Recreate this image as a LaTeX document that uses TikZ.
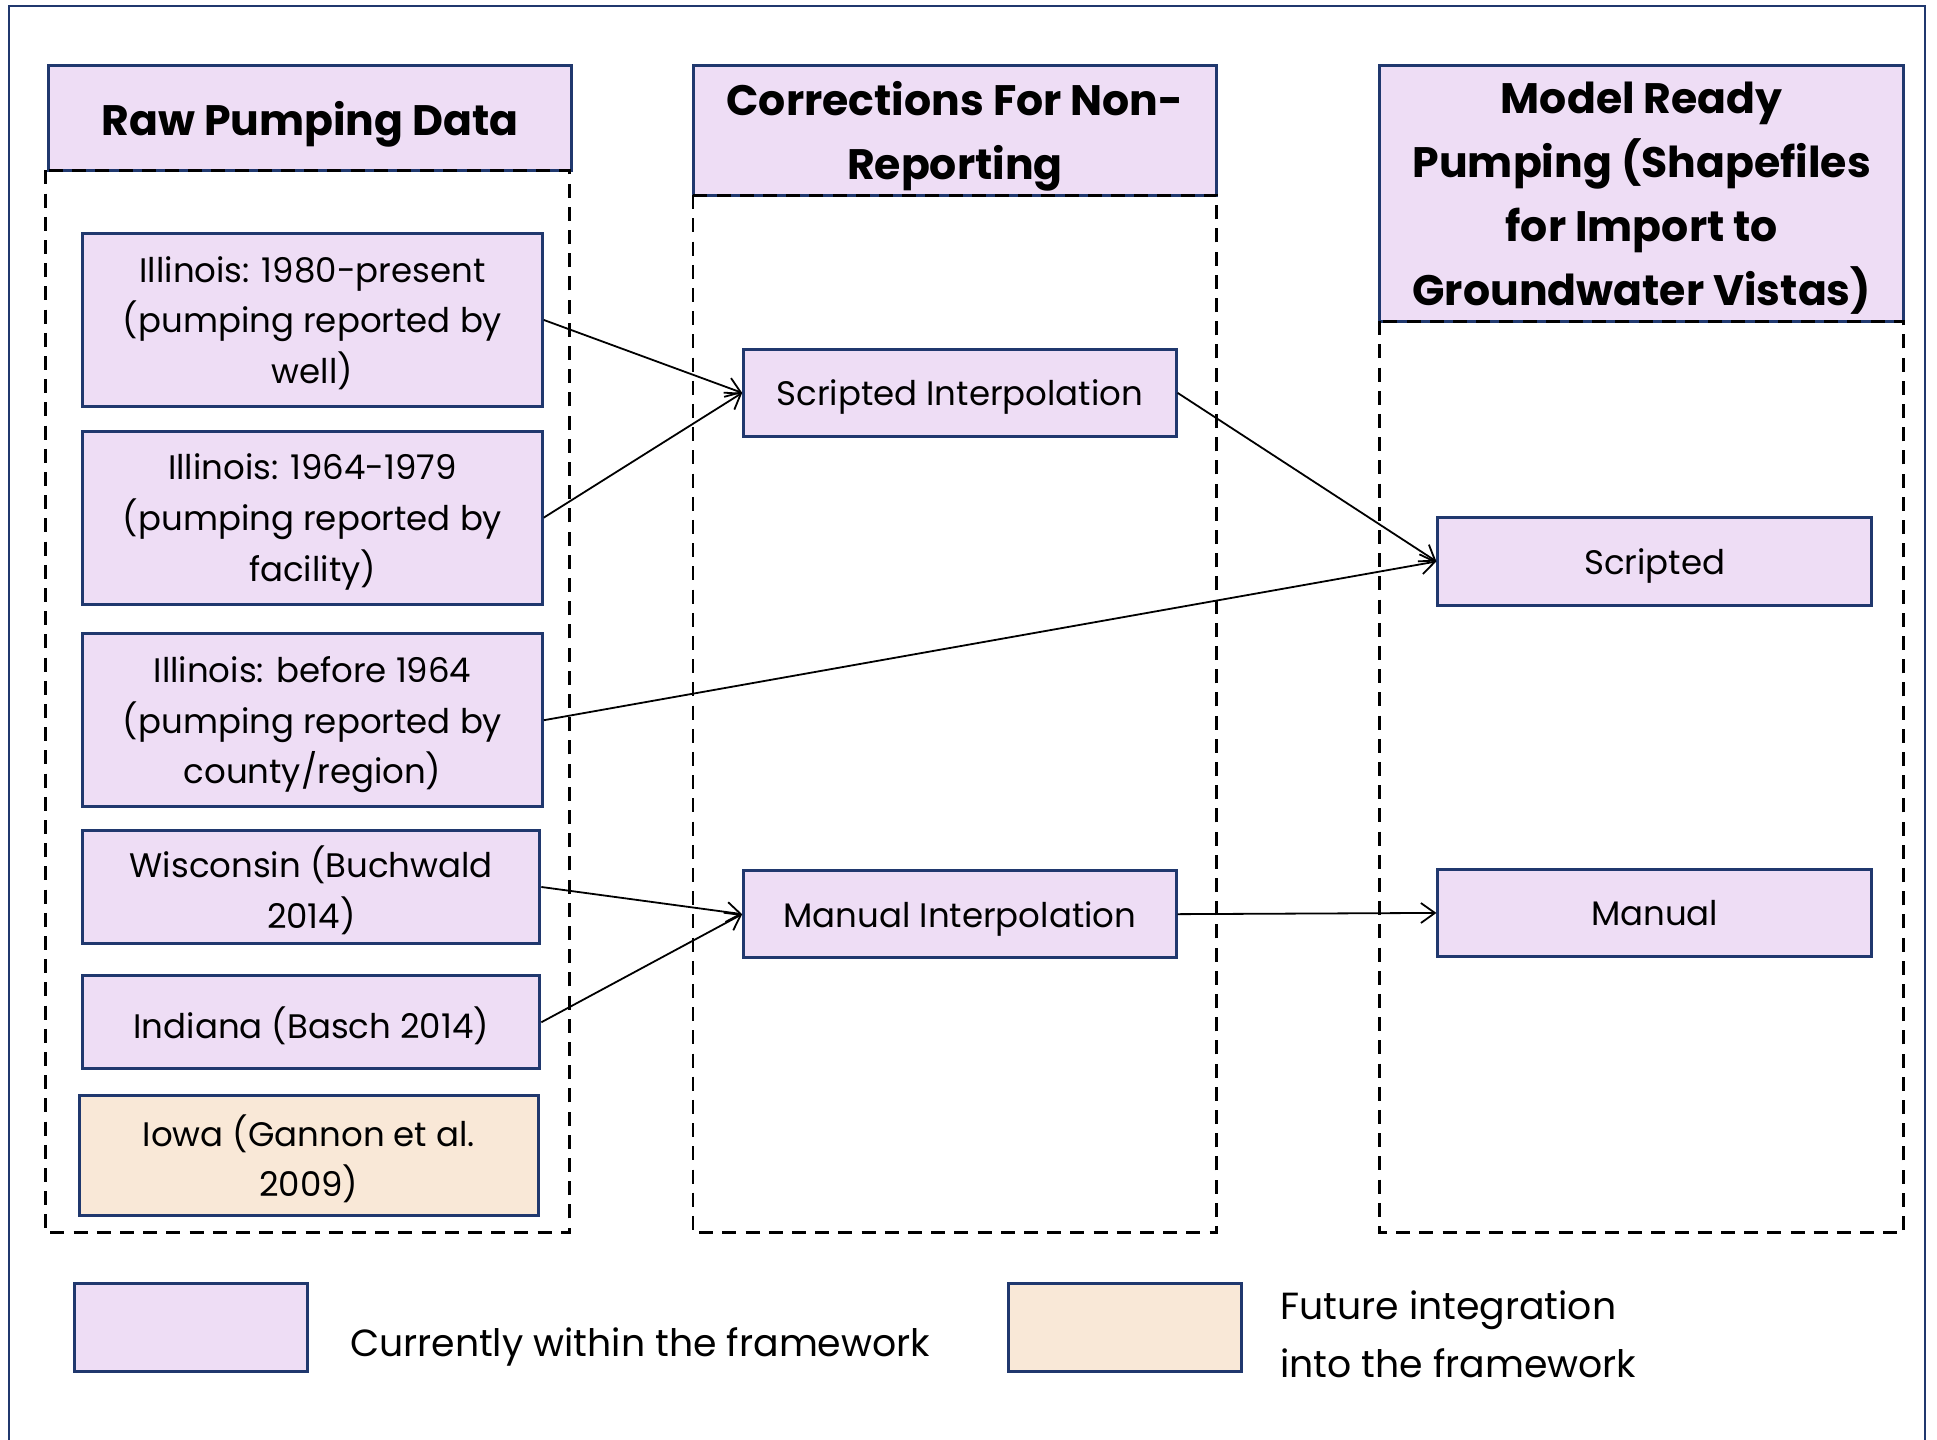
\documentclass[tikz,border=0pt]{standalone}
\usepackage{fontspec}
\setmainfont{Poppins}
\usetikzlibrary{arrows.meta}
\definecolor{lav}{RGB}{238,221,245}
\definecolor{peach}{RGB}{249,232,215}
\definecolor{navy}{RGB}{32,56,110}
\begin{document}
\begin{tikzpicture}[x=0.6177pt,y=-0.6177pt,
  bx/.style 2 args={minimum width=#1*0.6177pt, minimum height=#2*0.6177pt},
  pbox/.style={draw=navy, line width=1.5pt, fill=lav, inner sep=0pt, align=center,
    font=\fontsize{17}{25.3}\selectfont, text depth=-1.8pt},
  fbox/.style={pbox, fill=peach},
  hbox/.style={pbox, font=\fontsize{21.3}{32}\selectfont\bfseries, text depth=-2.4pt},
  cont/.style={draw=black, line width=1.4pt, dash pattern=on 7pt off 4.6pt},
  arr/.style={-{Straight Barb[length=7pt,width=10pt]}, line width=0.9pt},
  lbl/.style={anchor=west, align=left, inner sep=0pt, font=\fontsize{18.9}{29}\selectfont}]
\useasboundingbox (0,0) rectangle (1568,1165);
\fill[white] (0,0) rectangle (1568,1165);
\draw[navy, line width=1pt] (7,1180) -- (7,5) -- (1558,5) -- (1558,1180);
% headers
\node[hbox, bx={424}{85}] (h1) at (251,95.5) {Raw Pumping Data};
\node[hbox, bx={424}{105}] (h2) at (773,105.5) {Corrections For Non-\\Reporting};
\node[hbox, bx={424}{207}] (h3) at (1329,156.5) {Model Ready\\Pumping (Shapefiles\\for Import to\\Groundwater Vistas)};
% containers
\draw[cont] (37,138) rectangle (461,998);
\draw[cont] (561,158) rectangle (985,998);
\draw[cont] (1117,260) rectangle (1541,998);
% left boxes
\node[pbox, bx={372}{140}] (a1) at (253,259) {Illinois: 1980-present\\(pumping reported by\\well)};
\node[pbox, bx={372}{140}] (a2) at (253,419) {Illinois: 1964-1979\\(pumping reported by\\facility)};
\node[pbox, bx={372}{140}] (a3) at (253,583) {Illinois: before 1964\\(pumping reported by\\county/region)};
\node[pbox, bx={370}{92}] (a4) at (252,718) {Wisconsin (Buchwald\\2014)};
\node[pbox, bx={370}{75}] (a5) at (252,827.5) {Indiana (Basch 2014)};
\node[fbox, bx={372}{97}] (a6) at (250,935.5) {Iowa (Gannon et al.\\2009)};
% middle
\node[pbox, bx={350}{70}] (m1) at (777,318) {Scripted Interpolation};
\node[pbox, bx={350}{70}] (m2) at (777,740) {Manual Interpolation};
% right
\node[pbox, bx={351}{71}] (r1) at (1339.5,454.5) {Scripted};
\node[pbox, bx={351}{70}] (r2) at (1339.5,739) {Manual};
% arrows
\draw[arr] (a1.east) -- (m1.west);
\draw[arr] (a2.east) -- (m1.west);
\draw[arr] (a3.east) -- (r1.west);
\draw[arr] (m1.east) -- (r1.west);
\draw[arr] (a4.east) -- (m2.west);
\draw[arr] (a5.east) -- (m2.west);
\draw[arr] (m2.east) -- (r2.west);
% legend
\node[pbox, bx={189}{71}] (l1) at (154.5,1074.5) {};
\node[fbox, bx={189}{71}] (l2) at (910.5,1074.5) {};
\node[lbl] (t1) at (283,1090) {Currently within the framework};
\node[lbl] (t2) at (1036,1080) {Future integration\\into the framework};
\end{tikzpicture}
\end{document}
